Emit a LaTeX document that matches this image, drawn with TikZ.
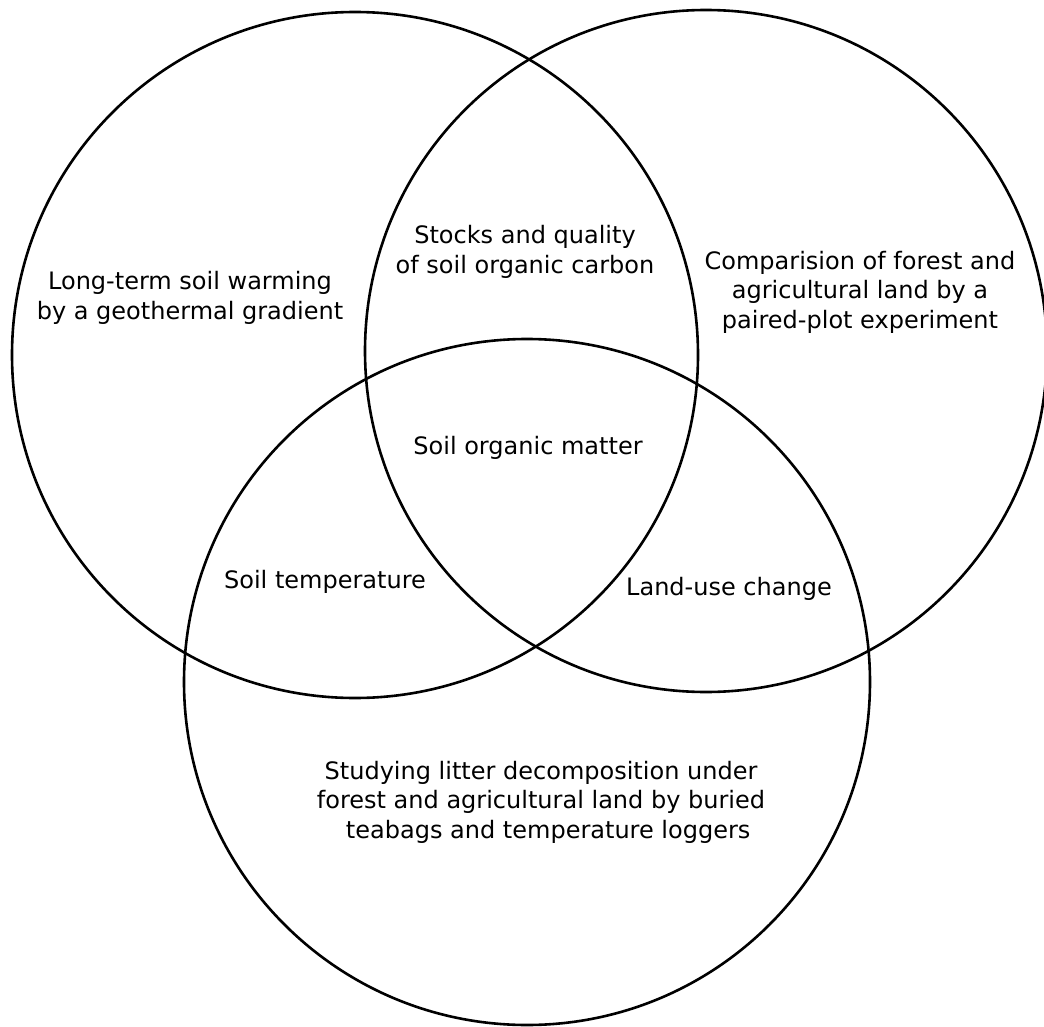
\documentclass[tikz,border=0pt]{standalone}
\usepackage{fontspec}
\setmainfont{DejaVu Sans}

\newcommand{\soilcircles}{
  \coordinate (cA) at (355,355);
  \coordinate (cB) at (706,351);
  \coordinate (cC) at (527,682);

  \draw [line width=2.6pt] (cA) circle (343pt);
  \draw [line width=2.6pt] (cB) circle (341pt);
  \draw [line width=2.6pt] (cC) circle (343pt);
}

\begin{document}
\begin{tikzpicture}[x=1pt,y=-1pt]
    \useasboundingbox (0,0) rectangle (1044,1027);
    \soilcircles

    \node [align=center,font=\fontsize{24}{29.5}\selectfont]
    (warming) at (190,298) {Long-term soil warming\\by a geothermal gradient};

    \node [align=center,font=\fontsize{24}{29.5}\selectfont]
    (stocks) at (525,252) {Stocks and quality\\of soil organic carbon};

    \node [align=center,font=\fontsize{24}{29.5}\selectfont]
    (paired) at (860,292) {Comparision of forest and\\agricultural land by a\\paired-plot experiment};

    \node [align=center,font=\fontsize{24}{29.5}\selectfont]
    (som) at (528,448) {Soil organic matter};

    \node [align=center,font=\fontsize{24}{29.5}\selectfont]
    (temp) at (325,582) {Soil temperature};

    \node [align=center,font=\fontsize{24}{29.5}\selectfont]
    (landuse) at (729,589) {Land-use change};

    \node [align=center,font=\fontsize{24}{29.5}\selectfont]
    (teabags) at (541,802) {Studying litter decomposition under\\forest and agricultural land by buried\\\hspace*{0.6em}teabags and temperature loggers};
\end{tikzpicture}
\end{document}
